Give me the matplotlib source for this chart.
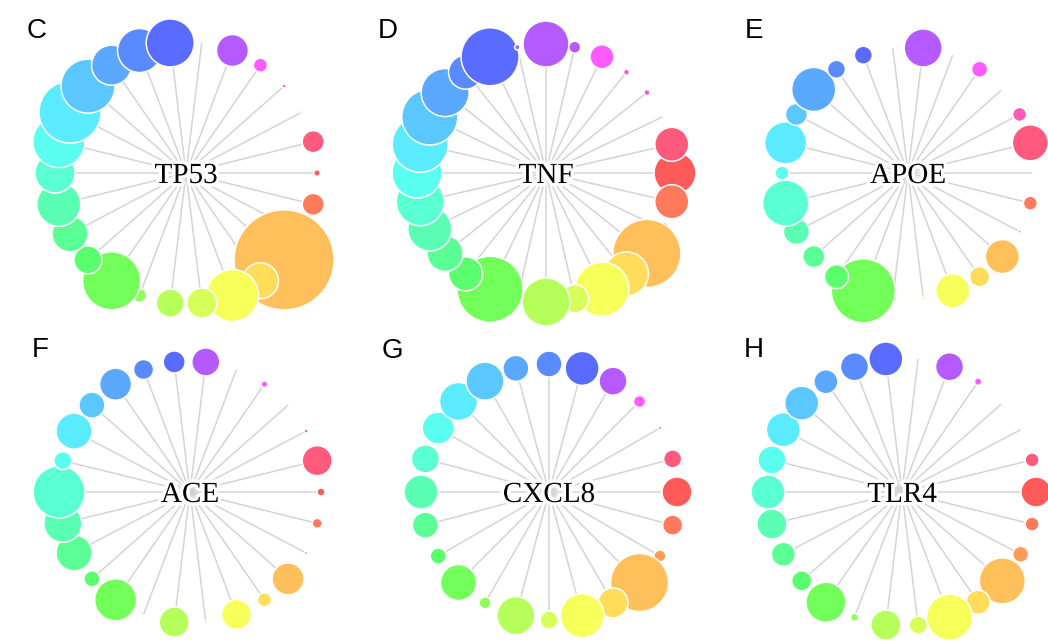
import numpy as np
import matplotlib.pyplot as plt
from matplotlib.patches import Circle
import matplotlib.patheffects as pe

plt.switch_backend('agg')

# colour wheel used for the nodes (red -> pink -> blue -> green -> yellow -> orange)
palette = ['#ff5a5a', '#ff5a7d', '#ff5ab9', '#ff5aff', '#b45aff', '#5a6bff',
           '#5a8aff', '#5aa8ff', '#5ac8ff', '#5aebff', '#5afff0', '#5affd2',
           '#5affb4', '#5aff96', '#5aff6e', '#72ff5a', '#8fff5a', '#b6ff5a',
           '#d7ff5a', '#f7ff5a', '#ffdd5a', '#ffbf5a', '#ff9b5a', '#ff7a5a']

genes = ['TP53', 'TNF', 'APOE', 'ACE', 'CXCL8', 'TLR4']
letters = ['C', 'D', 'E', 'F', 'G', 'H']

# node score per spoke (0 = spoke without node), counter-clockwise from 3 o'clock
tp53_score = [3.3, 11, 1.3, 2, 7, 16, 0, 24, 22, 20, 27, 31, 26, 20, 22, 18, 14,
              29, 7, 14, 15, 26, 18, 50, 0, 11]
tp53_col = [0, 1, 2, 3, 3, 4, None, 5, 6, 7, 8, 9, 10, 11, 12, 13, 14, 15, 16,
            17, 18, 19, 20, 21, 22, 23]

tnf_score = [21, 17, 0, 3, 3, 12, 6, 23, 2.7, 29, 17, 24, 28, 28, 25, 24, 22,
             18, 17, 33, 3, 24, 14, 27, 22, 34, 7, 17]
tnf_col = [0, 1, None, 2, 2, 3, 4, 4, 4, 5, 6, 7, 8, 9, 10, 11, 12, 13, 14, 15,
           16, 17, 18, 19, 20, 21, 22, 23]

apoe_score = [1, 18, 7, 1, 8, 0, 19, 0, 9, 9, 22, 11, 21, 7, 23, 13, 11, 12, 32,
              4, 1.7, 17, 10, 17, 1.7, 7]
apoe_col = [0, 1, 2, 3, 3, None, 4, None, 5, 6, 7, 8, 9, 10, 11, 12, 13, 14, 15,
            16, 18, 19, 20, 21, 22, 23]

ace_score = [4, 15, 2, 0, 3.3, 0, 14, 11, 10, 16, 13, 18, 9, 26, 19, 18, 8, 21,
             0, 15, 1.7, 15, 7, 16, 1.7, 5]
ace_col = [0, 1, 2, None, 3, None, 4, 5, 6, 7, 8, 9, 10, 11, 12, 13, 14, 15, 16,
           17, 18, 19, 20, 21, 22, 23]

cxcl8_score = [15, 9, 1.7, 6, 14, 17, 13, 13, 19, 19, 16, 14, 17, 13, 8, 18, 6,
               19, 9, 22, 15, 29, 6, 10]
cxcl8_col = list(range(24))

tlr4_score = [15, 7, 0, 1, 3.7, 14, 0, 17, 14, 12, 17, 17, 14, 17, 15, 12, 10,
              20, 4, 15, 9, 23, 12, 23, 8, 7]
tlr4_col = [0, 1, None, 2, 3, 4, None, 5, 6, 7, 8, 9, 10, 11, 12, 13, 14, 15,
            16, 17, 18, 19, 20, 21, 22, 23]

scores = [tp53_score, tnf_score, apoe_score, ace_score, cxcl8_score, tlr4_score]
cols = [tp53_col, tnf_col, apoe_col, ace_col, cxcl8_col, tlr4_col]

W, H = 1048, 641
centers = [(186, 173), (546, 173), (908, 173), (190, 492), (549, 492), (902, 492)]
spoke_px = [131, 129, 126, 131, 128, 134]
letter_pos = [(27, 38), (378, 38), (745, 38), (32, 357), (382, 358), (744, 357)]


def draw_panel(ax, gene, score, col, spoke):
    n = len(score)
    ang = 2 * np.pi * np.arange(n) / n
    for a in ang:
        ax.plot([0, np.cos(a)], [0, np.sin(a)], color='#d4d4d4', lw=1.1,
                zorder=1, solid_capstyle='butt')
    # first node, then clockwise round the wheel (later ones sit on top)
    order = [0] + list(range(n - 1, 0, -1))
    z = 2
    for i in order:
        if score[i] <= 0 or col[i] is None:
            continue
        c = Circle((np.cos(ang[i]), np.sin(ang[i])), score[i] / spoke,
                   facecolor=palette[col[i]], edgecolor='white', lw=1.1,
                   zorder=z, clip_on=False)
        ax.add_patch(c)
        z += 1
    ax.text(0, 0, gene, ha='center', va='center_baseline', fontsize=21,
            family=['Liberation Serif', 'DejaVu Serif'], color='black', zorder=100,
            path_effects=[pe.withStroke(linewidth=5, foreground='white')])


fig = plt.figure(figsize=(W / 100, H / 100), dpi=100)
bw, bh = 340, 320
for k in range(6):
    cx, cy = centers[k]
    sp = spoke_px[k]
    ax = fig.add_axes([(cx - bw / 2) / W, (H - cy - bh / 2) / H, bw / W, bh / H])
    ax.set_xlim(-bw / 2 / sp, bw / 2 / sp)
    ax.set_ylim(-bh / 2 / sp, bh / 2 / sp)
    ax.set_aspect('equal')
    ax.axis('off')
    draw_panel(ax, genes[k], scores[k], cols[k], sp)
    lx, ly = letter_pos[k]
    fig.text(lx / W, (H - ly) / H, letters[k], fontsize=20, ha='left',
             va='baseline', family=['Liberation Sans', 'DejaVu Sans'])

fig.savefig('out.png', dpi=100)
